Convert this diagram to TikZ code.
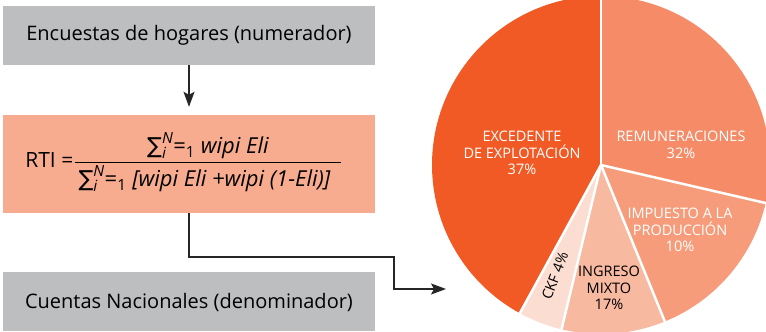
\documentclass[tikz,border=0pt]{standalone}
\usepackage{amsmath}
\usepackage{fontspec}
\setmainfont{Open Sans}
\newfontfamily\symfont{DejaVu Sans}
\usetikzlibrary{calc,shapes,arrows.meta,positioning}

\definecolor{boxgray}{HTML}{BDBEC0}
\definecolor{boxsalmon}{HTML}{F8AC8F}
\definecolor{excedcol}{HTML}{F15A24}
\definecolor{remuncol}{HTML}{F58C67}
\definecolor{impuecol}{HTML}{F69C7B}
\definecolor{ingrecol}{HTML}{F8B9A1}
\definecolor{ckfcol}{HTML}{FCDDD2}

% suma con indices
\newcommand{\sumiN}{$\text{\symfont ∑}_{\text{\itshape i}}^{\text{\itshape N}}$=\textsubscript{1}}

\tikzset{
  srcbox/.style={fill=boxgray, minimum width=372pt, minimum height=59pt, inner sep=0pt, font=\fontsize{20}{24}\selectfont},
  link/.style={draw=black!85, line width=1.2pt, -{Stealth[length=15pt,width=11pt,inset=3pt]}},
  slicelbl/.style={align=center, text=white, font=\fontsize{14.5}{16.5}\selectfont, inner sep=0pt},
  sep/.style={draw=white, line width=2.5pt},
}

\begin{document}
\begin{tikzpicture}[x=1pt,y=1pt]
    \useasboundingbox (0,0) rectangle (766,332);
    \clip (0,0) rectangle (766,332);

    % cajas
    \node[srcbox] (encuestas) at (189,296.5) {Encuestas de hogares (numerador)};
    \node[srcbox, fill=boxsalmon, minimum height=98pt] (rti) at (189,168) {};
    \node[srcbox] (cuentas) at (189,30) {Cuentas Nacionales (denominador)};
    \node[font=\fontsize{21}{24}\selectfont, inner sep=0pt] (formula) at (184,170)
      {RTI =$\dfrac{\text{\fontsize{22}{24}\selectfont\sumiN\ \itshape wipi Eli}}
                   {\text{\fontsize{22}{24}\selectfont\hspace{4pt}\sumiN\ \itshape [wipi Eli +wipi (1-Eli)]\hspace{11pt}}}$};

    % conectores
    \coordinate (knee) at (394,75);
    \coordinate (pieIn) at (446,43);
    \draw[link, shorten >=8pt] (encuestas) -- (rti);
    \draw[link] (rti.south) |- (knee) |- (pieIn);

    % torta
    \coordinate (c) at (601,167);
    \fill[excedcol] (c) -- ++(90:169) arc[start angle=90, end angle=241.3, radius=169] -- cycle;
    \fill[remuncol] (c) -- ++(-13:169) arc[start angle=-13, end angle=90, radius=169] -- cycle;
    \fill[impuecol] (c) -- ++(-67.8:169) arc[start angle=-67.8, end angle=-13, radius=169] -- cycle;
    \fill[ingrecol] (c) -- ++(-103.5:169) arc[start angle=-103.5, end angle=-67.8, radius=169] -- cycle;
    \fill[ckfcol] (c) -- ++(-118.7:169) arc[start angle=-118.7, end angle=-103.5, radius=169] -- cycle;
    \foreach \a in {90,-13,-67.8,-103.5,-118.7}
      \draw[sep] (c) -- ++(\a:175);

    \node[slicelbl] (exced) at (522,179) {EXCEDENTE\\DE EXPLOTACIÓN\\37\%};
    \node[slicelbl] (remun) at (681,187) {REMUNERACIONES\\32\%};
    \node[slicelbl] (impue) at (680,102) {IMPUESTO A LA\\PRODUCCIÓN\\10\%};
    \node[slicelbl, text=black] (ingre) at (609,44) {INGRESO\\MIXTO\\17\%};
    \node[slicelbl, text=black, rotate=69] (ckf) at (555,56) {CKF 4\%};
\end{tikzpicture}
\end{document}
